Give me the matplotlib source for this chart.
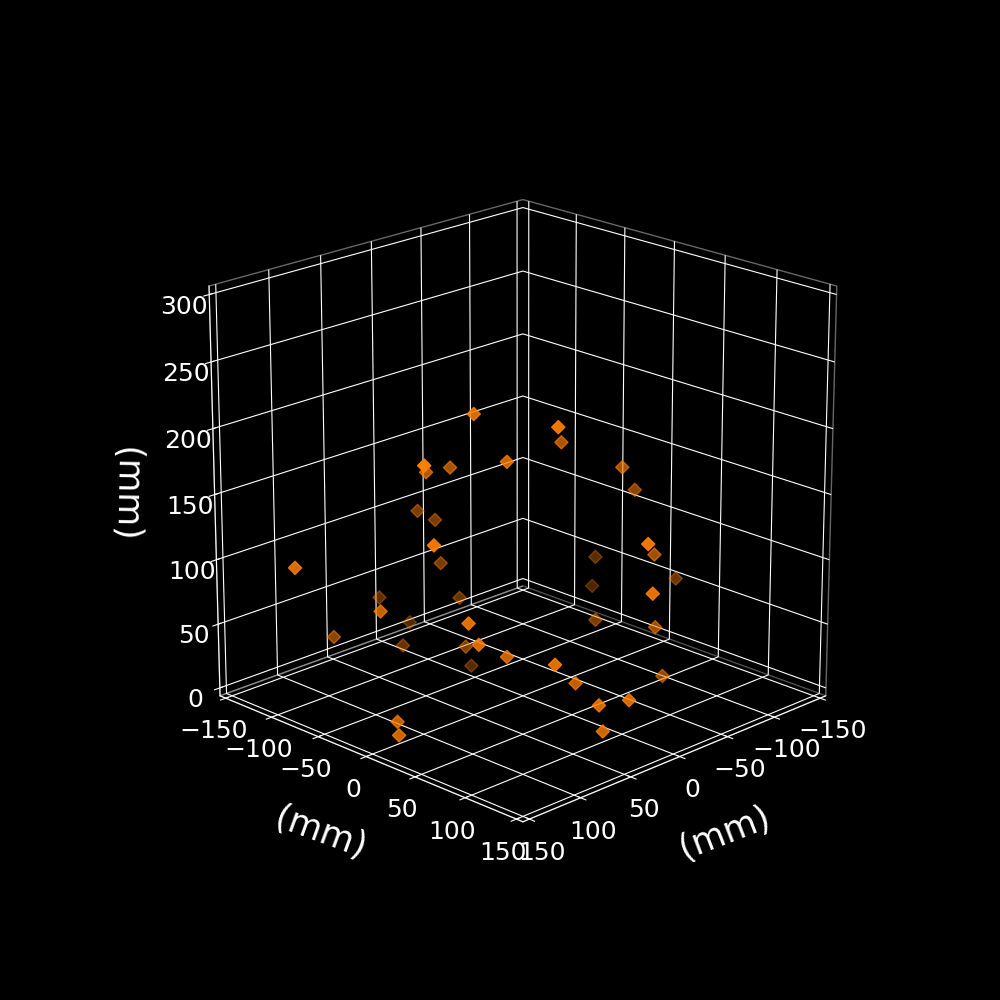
import matplotlib
matplotlib.use("Agg")
import matplotlib.pyplot as plt

x_mm = [43, 19, -29, 104, 49, 28, 26, -60, -86, 17, 8, 100, 14, -6,
        -67, -117, -94, -98, -8, 160, 32, -4, 109, 9, -56, -58, 97, 88,
        78, 20, 34, -10, 54, 49, 20, -62, 27, 12, 25, 119, 127]
y_mm = [-6, 54, 10, 7, -49, -46, 10, 41, 29, -92, -83, 12, -71, 118,
        67, 42, -18, -25, 121, -67, -118, -70, -34, -110, 19, 77, -97, 34,
        34, -39, -91, -64, 38, 81, 73, 81, 103, 118, 105, -7, 3]
z_mm = [220, 219, 185, 200, 167, 166, 184, 166, 139, 118, 111, 141, 82, 142,
        104, 65, 72, 46, 105, 119, 47, 50, 81, 23, 43, 53, 40, 85,
        66, 27, 17, -4, 51, 56, 31, 15, 25, 29, 5, 7, 2]
xy_ticks = [-150, -100, -50, 0, 50, 100, 150]
z_ticks = [0, 50, 100, 150, 200, 250, 300]

plt.style.use('dark_background')
fig = plt.figure(figsize=(10, 10), dpi=100)
ax = fig.add_subplot(111, projection='3d')
ax.view_init(elev=20, azim=45)
ax.set_xlim(-156.25, 156.25)
ax.set_ylim(-156.25, 156.25)
ax.set_zlim(-6.25, 306.25)
ax.set_box_aspect((1, 1, 1), zoom=0.952)
ax.set_xticks(xy_ticks)
ax.set_yticks(xy_ticks)
ax.set_zticks(z_ticks)
ax.tick_params(labelsize=18)
ax.set_xlabel('(mm)', fontsize=25, labelpad=20, rotation=21)
ax.set_ylabel('(mm)', fontsize=25, labelpad=20, rotation=-20)
ax.zaxis.set_rotate_label(False)
ax.set_zlabel('(mm)', fontsize=25, labelpad=21, rotation=-91)
for a in (ax.xaxis, ax.yaxis, ax.zaxis):
    a.pane.set_facecolor((0, 0, 0, 0))
    a.pane.set_edgecolor('#cccccc')

ax.scatter(x_mm, y_mm, z_mm, marker='D', s=45, color='#ff7f00')
fig.savefig('out.png', dpi=100)
